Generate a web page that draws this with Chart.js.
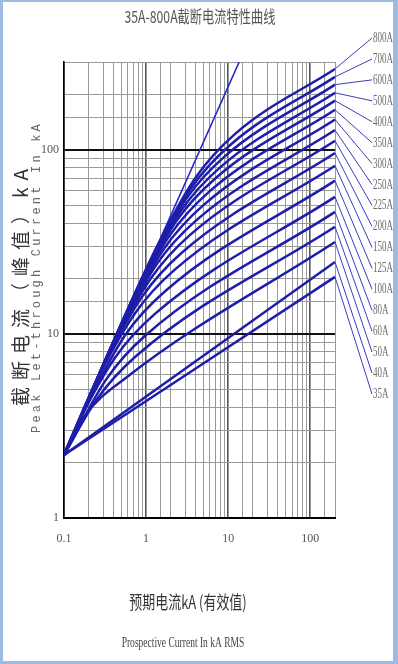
<!DOCTYPE html>
<html>
<head>
<meta charset="utf-8">
<script src="https://cdn.jsdelivr.net/npm/chart.js@4"></script>
<style>
  html, body { margin: 0; padding: 0; background: #fff; }
  canvas { display: block; }
</style>
</head>
<body>
<canvas id="chart" width="398" height="664"></canvas>
<script>
// fuse ratings, top curve first
const fuseLabels = ['800A', '700A', '600A', '500A', '400A', '350A', '300A', '250A', '225A',
  '200A', '150A', '125A', '100A', '80A', '60A', '50A', '40A', '35A'];

// [prospective kA rms, peak let-through kA]
const c800 = [[0.1, 2.2], [1.34, 29.5], [4.02, 70.8], [12.06, 121.8], [200, 275]];
const c700 = [[0.1, 2.2], [1.17, 25.7], [3.5, 61.6], [10.5, 105.9], [200, 249]];
const c600 = [[0.1, 2.2], [1.02, 22.4], [3.05, 53.8], [9.15, 92.4], [200, 226]];
const c500 = [[0.1, 2.2], [0.88, 19.4], [2.64, 46.5], [7.92, 80.0], [200, 204]];
const c400 = [[0.1, 2.2], [0.77, 16.9], [2.3, 40.6], [6.9, 69.7], [200, 185]];
const c350 = [[0.1, 2.2], [0.65, 14.4], [1.96, 34.5], [5.88, 59.3], [200, 165]];
const c300 = [[0.1, 2.2], [0.55, 12.1], [1.65, 29.0], [4.95, 49.9], [200, 146]];
const c250 = [[0.1, 2.2], [0.46, 10.05], [1.37, 24.2], [4.11, 41.5], [200, 128]];
const c225 = [[0.1, 2.2], [0.38, 8.33], [1.14, 20.0], [3.41, 34.4], [200, 112]];
const c200 = [[0.1, 2.2], [0.3, 6.7], [0.91, 16.1], [2.74, 27.7], [200, 96]];
const c150 = [[0.1, 2.2], [0.24, 5.37], [0.73, 12.9], [2.2, 22.2], [200, 82]];
const c125 = [[0.1, 2.2], [0.19, 4.13], [0.56, 9.9], [1.69, 17.0], [200, 68]];
const c100 = [[0.1, 2.2], [0.14, 3.1], [0.42, 7.44], [1.27, 12.8], [200, 55.5]];
const c80 = [[0.1, 2.2], [0.33, 5.7], [0.98, 9.8], [200, 46]];
const c60 = [[0.1, 2.2], [0.25, 4.4], [0.75, 7.56], [200, 38.2]];
const c50 = [[0.1, 2.2], [0.18, 3.6], [0.57, 5.78], [200, 31.6]];
const c40 = [[0.1, 2.2], [200, 24.6]];
const c35 = [[0.1, 2.2], [200, 20.4]];
const peakLine = [[0.1, 2.2], [13.6, 300]];

const curves = [c800, c700, c600, c500, c400, c350, c300, c250, c225,
  c200, c150, c125, c100, c80, c60, c50, c40, c35];

const xLabels = [0.1, 1, 10, 100];
const yLabels = [1, 10, 100];

const BLUE = '#1e1eaa';

const datasets = curves.map((pts, i) => ({
  label: fuseLabels[i],
  data: pts.map(p => ({ x: p[0], y: p[1] })),
  borderColor: BLUE,
  borderWidth: 2.5,
  pointRadius: 0,
  cubicInterpolationMode: 'monotone',
  fill: false
}));
datasets.push({
  label: 'peak',
  data: peakLine.map(p => ({ x: p[0], y: p[1] })),
  borderColor: '#2626c8',
  borderWidth: 1.6,
  pointRadius: 0,
  fill: false
});

function condensedText(ctx, text, x, y, font, color, sx, align) {
  ctx.save();
  ctx.font = font;
  ctx.fillStyle = color;
  ctx.textBaseline = 'middle';
  const w = ctx.measureText(text).width * sx;
  let left = x;
  if (align === 'center') left = x - w / 2;
  ctx.translate(left, y);
  ctx.scale(sx, 1);
  ctx.textAlign = 'left';
  ctx.fillText(text, 0, 0);
  ctx.restore();
}

const decorations = {
  id: 'decorations',
  afterDatasetsDraw(chart) {
    const { ctx, chartArea } = chart;
    ctx.save();
    curves.forEach((pts, i) => {
      const meta = chart.getDatasetMeta(i);
      const last = meta.data[meta.data.length - 1];
      const ly = chartArea.top - 24 + i * 20.94;
      ctx.strokeStyle = '#3c3cc0';
      ctx.lineWidth = 1;
      ctx.beginPath();
      ctx.moveTo(last.x, last.y);
      ctx.lineTo(chartArea.right + 37, ly);
      ctx.stroke();
      condensedText(ctx, fuseLabels[i], chartArea.right + 38, ly,
        '15px "Liberation Serif"', '#6a6a6a', 0.6, 'left');
    });
    ctx.restore();
  },
  afterDraw(chart) {
    const { ctx, width, height } = chart;
    // title
    condensedText(ctx, '35A-800A截断电流特性曲线', 200, 17,
      '17px "Noto Sans CJK SC"', '#555', 0.72, 'center');
    // x titles
    condensedText(ctx, '预期电流kA (有效值)', 188, 602,
      '18px "Noto Sans CJK SC"', '#333', 0.72, 'center');
    condensedText(ctx, 'Prospective Current In kA RMS', 183, 643,
      '14px "Liberation Serif"', '#444', 0.68, 'center');
    // y titles (rotated)
    ctx.save();
    ctx.translate(21, 284);
    ctx.rotate(-Math.PI / 2);
    ctx.font = '19px "Noto Sans CJK SC"';
    ctx.letterSpacing = '7px';
    ctx.fillStyle = '#333';
    ctx.textAlign = 'center';
    ctx.textBaseline = 'middle';
    ctx.fillText('截断电流（峰值）kA', 0, 0);
    ctx.restore();
    ctx.save();
    ctx.translate(37, 277);
    ctx.rotate(-Math.PI / 2);
    ctx.font = '12px "Liberation Mono"';
    ctx.letterSpacing = '3.2px';
    ctx.fillStyle = '#666';
    ctx.textAlign = 'center';
    ctx.textBaseline = 'middle';
    ctx.fillText('Peak Let-through Current In kA', 0, 0);
    ctx.restore();
    // frame
    ctx.save();
    ctx.fillStyle = '#9cbbe2';
    ctx.fillRect(0, 0, width, 2);
    ctx.fillRect(0, height - 3, width, 3);
    ctx.fillRect(0, 0, 3, height);
    ctx.fillRect(width - 5, 0, 5, height);
    ctx.restore();
  }
};

function gridColor(ctx, majors, majorColor) {
  const v = ctx.tick ? ctx.tick.value : null;
  return majors.some(m => Math.abs(v - m) < m * 1e-6) ? majorColor : '#9a9a9a';
}

new Chart(document.getElementById('chart'), {
  type: 'line',
  data: { datasets },
  plugins: [decorations],
  options: {
    responsive: false,
    animation: false,
    layout: { padding: { top: 62, right: 63, bottom: 0, left: 0 } },
    plugins: { legend: { display: false }, tooltip: { enabled: false }, title: { display: false } },
    scales: {
      x: {
        type: 'logarithmic',
        min: 0.1,
        max: 200,
        afterFit: s => { s.height = 146; },
        border: { display: true, color: '#000', width: 2 },
        grid: {
          drawTicks: false,
          color: c => gridColor(c, [1, 10, 100], '#555'),
          lineWidth: c => gridColor(c, [1, 10, 100], 'M') === 'M' ? 1.6 : 1
        },
        ticks: {
          autoSkip: false,
          maxRotation: 0,
          padding: 14,
          color: '#555',
          font: { family: '"Liberation Serif"', size: 12 },
          callback: v => xLabels.some(m => Math.abs(v - m) < m * 1e-6) ? String(v) : ''
        }
      },
      y: {
        type: 'logarithmic',
        min: 1,
        max: 300,
        afterFit: s => { s.width = 64; },
        border: { display: true, color: '#000', width: 1.6 },
        grid: {
          drawTicks: false,
          color: c => gridColor(c, [10, 100], '#111'),
          lineWidth: c => gridColor(c, [10, 100], 'M') === 'M' ? 2 : 1
        },
        ticks: {
          autoSkip: false,
          padding: 5,
          color: '#555',
          font: { family: '"Liberation Serif"', size: 12 },
          callback: v => yLabels.some(m => Math.abs(v - m) < m * 1e-6) ? String(v) : ''
        }
      }
    }
  }
});
</script>
</body>
</html>
